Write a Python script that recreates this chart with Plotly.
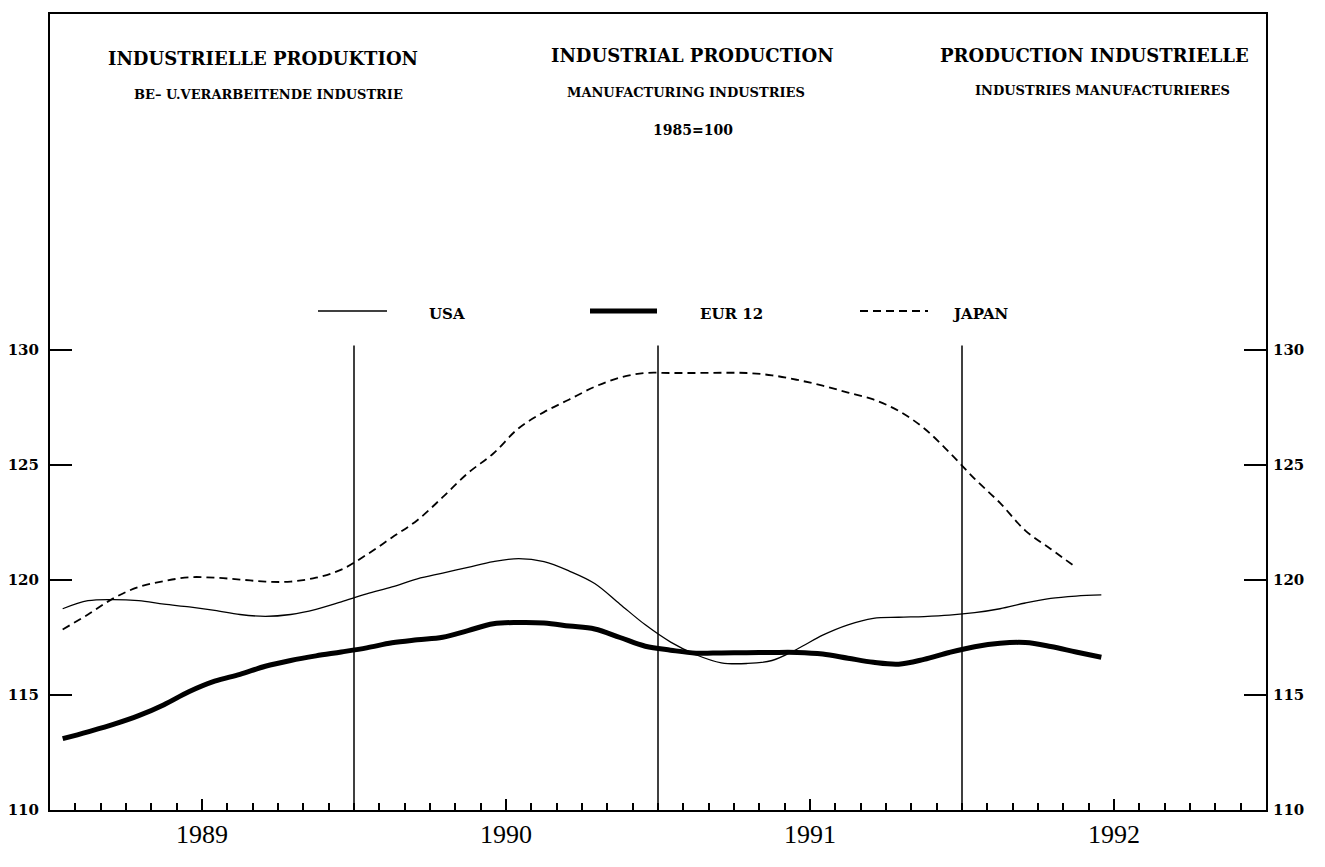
import plotly.graph_objects as go

# Industrial production, manufacturing industries, 1985=100 (monthly, smoothed)
YEARS = [1989, 1990, 1991, 1992]
Y_TICKS = [110, 115, 120, 125, 130]

# Jan 1989 - Jun 1992
usa = [118.75, 119.1, 119.15, 119.1, 118.95, 118.83, 118.68, 118.5, 118.42, 118.5,
       118.72, 119.05, 119.4, 119.7, 120.05, 120.3, 120.55, 120.8, 120.93, 120.8,
       120.39, 119.85, 118.95, 118.05, 117.3, 116.75, 116.4, 116.37, 116.5, 117.0,
       117.6, 118.05, 118.33, 118.38, 118.41, 118.47, 118.58, 118.75, 119.0, 119.2,
       119.3, 119.35]
eur12 = [113.1, 113.4, 113.72, 114.1, 114.58, 115.15, 115.6, 115.9, 116.25, 116.5,
         116.7, 116.87, 117.05, 117.27, 117.4, 117.51, 117.8, 118.1, 118.15, 118.13,
         118.0, 117.87, 117.5, 117.12, 116.95, 116.82, 116.83, 116.84, 116.85, 116.85,
         116.78, 116.6, 116.42, 116.34, 116.55, 116.85, 117.1, 117.25, 117.28, 117.11,
         116.87, 116.64]
# Jan 1989 - May 1992
japan = [117.85, 118.5, 119.2, 119.7, 119.95, 120.12, 120.1, 120.02, 119.93, 119.93,
         120.1, 120.45, 121.1, 121.85, 122.6, 123.6, 124.65, 125.5, 126.6, 127.3,
         127.85, 128.4, 128.8, 129.0, 129.0, 129.0, 129.01, 129.0, 128.9, 128.7,
         128.45, 128.15, 127.85, 127.35, 126.6, 125.55, 124.4, 123.35, 122.15, 121.35,
         120.55]


def months(values):
    # place each monthly value in the middle of its month
    return [YEARS[0] + (i + 0.5) / 12 for i in range(len(values))]


HEAVY = "DejaVu Serif"
SERIF = "Liberation Serif"

fig = go.Figure()
fig.add_trace(go.Scatter(x=months(usa), y=usa, name="USA", mode="lines",
                         line=dict(color="black", width=1.3, shape="spline", smoothing=1)))
fig.add_trace(go.Scatter(x=months(eur12), y=eur12, name="EUR 12", mode="lines",
                         line=dict(color="black", width=5, shape="spline", smoothing=1)))
fig.add_trace(go.Scatter(x=months(japan), y=japan, name="JAPAN", mode="lines",
                         line=dict(color="black", width=1.8, dash="8px,5px", shape="spline", smoothing=1)))
# empty trace so the right hand scale gets drawn
fig.add_trace(go.Scatter(x=[YEARS[0]], y=[Y_TICKS[0]], yaxis="y2", mode="markers",
                         marker=dict(opacity=0), hoverinfo="skip", showlegend=False))

# axis geometry (page pixels, body has an 8px margin)
L, R, T, B = 50, 1266, 14, 810
W, H = 1325 - 16, 867 - 16


def px(x):
    return (x - L) / (R - L)


def py(y):
    return (B - y) / (B - T)


y_range = [110, 110 + (B - T) / 23.0]

# quarter ticks carry the year label at mid year
quarters = [YEARS[0] + q / 4 for q in range(len(YEARS) * 4 + 1)]
qlabels = [str(int(q)) if abs(q - int(q) - 0.5) < 1e-9 else "" for q in quarters]
monthly = [YEARS[0] + m / 12 for m in range(len(YEARS) * 12 + 1)]

yscale = dict(range=y_range, tickvals=Y_TICKS, ticks="inside", ticklen=22, tickwidth=1.5,
              tickcolor="black", showgrid=False, zeroline=False, ticklabelstandoff=6,
              automargin=False,
              tickfont=dict(family=HEAVY, size=15, color="black", weight="bold"))

fig.update_layout(
    width=W, height=H,
    margin=dict(l=L - 8, r=W - (R - 8), t=T - 8, b=H - (B - 8), autoexpand=False),
    paper_bgcolor="white", plot_bgcolor="white",
    showlegend=False,
    xaxis=dict(range=[YEARS[0], YEARS[-1] + 1], tickvals=quarters, ticktext=qlabels,
               ticks="inside", ticklen=11, tickwidth=1.5, tickcolor="black",
               minor=dict(tickvals=monthly, ticks="inside", ticklen=7, tickwidth=1.5, tickcolor="black"),
               showline=True, linecolor="black", linewidth=2, mirror=True,
               showgrid=False, zeroline=False, automargin=False,
               tickfont=dict(family=SERIF, size=26, color="black")),
    yaxis=dict(showline=True, linecolor="black", linewidth=2, mirror=True, **yscale),
    yaxis2=dict(overlaying="y", side="right", anchor="x", showline=False, **yscale),
)

# year separators
for yr in YEARS[1:]:
    fig.add_shape(type="line", xref="x", yref="y", x0=yr, x1=yr, y0=110, y1=130.2,
                  line=dict(color="black", width=1.5))

titles = [
    ("INDUSTRIELLE PRODUKTION", 263, 58, 18),
    ("BE\u2013 U.VERARBEITENDE INDUSTRIE", 268, 94, 13),
    ("INDUSTRIAL PRODUCTION", 692, 56, 18),
    ("MANUFACTURING INDUSTRIES", 686, 92, 13),
    ("1985=100", 693, 130, 14),
    ("PRODUCTION INDUSTRIELLE", 1094, 56, 18),
    ("INDUSTRIES MANUFACTURIERES", 1102, 91, 13),
]
for text, x, y, size in titles:
    fig.add_annotation(text=text, x=px(x), y=py(y), xref="paper", yref="paper",
                       showarrow=False, xanchor="center", yanchor="middle",
                       font=dict(family=HEAVY, size=size, color="black", weight="bold"))

# legend keys drawn like the original
legend = [
    ("USA", 318, 387, 447, dict(width=1.3)),
    ("EUR 12", 590, 657, 731, dict(width=5)),
    ("JAPAN", 860, 928, 980, dict(width=1.8, dash="8px,5px")),
]
for name, x0, x1, xt, style in legend:
    fig.add_shape(type="line", xref="paper", yref="paper", x0=px(x0), x1=px(x1),
                  y0=py(311), y1=py(311), line=dict(color="black", **style))
    fig.add_annotation(text=name, x=px(xt), y=py(314), xref="paper", yref="paper",
                       showarrow=False, xanchor="center", yanchor="middle",
                       font=dict(family=HEAVY, size=15, color="black", weight="bold"))

fig.write_html("out.html")
